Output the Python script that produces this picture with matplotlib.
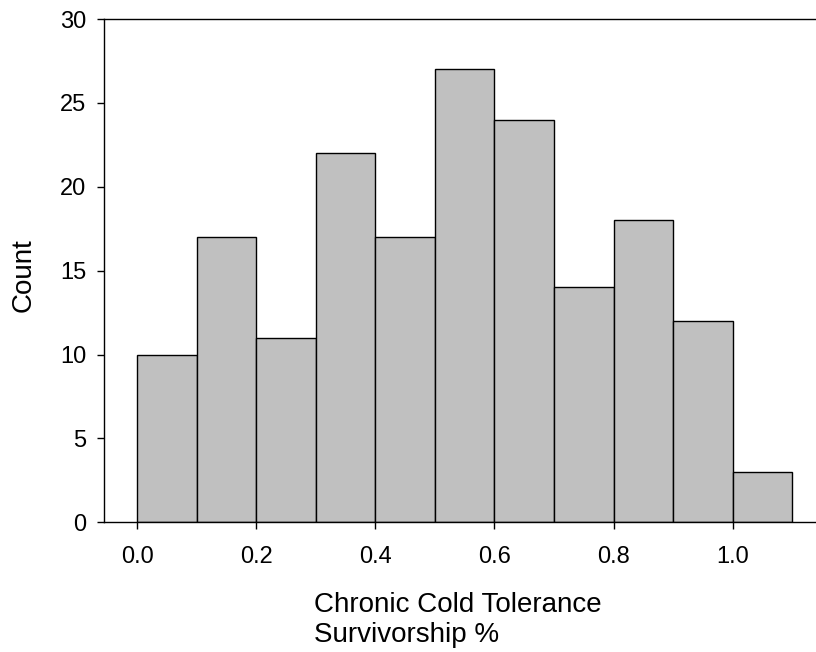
import matplotlib
matplotlib.use("Agg")
import matplotlib.pyplot as plt

plt.rcParams['font.family'] = ['Liberation Sans', 'DejaVu Sans']

bin_edges = [0.0, 0.1, 0.2, 0.3, 0.4, 0.5, 0.6, 0.7, 0.8, 0.9, 1.0, 1.1]
counts = [10, 17, 11, 22, 17, 27, 24, 14, 18, 12, 3]
xticks = [0.0, 0.2, 0.4, 0.6, 0.8, 1.0]
yticks = [0, 5, 10, 15, 20, 25, 30]
xlabel_lines = ['Chronic Cold Tolerance', 'Survivorship %']
ylabel = 'Count'

W, H = 816, 652
fig = plt.figure(figsize=(W / 100, H / 100), dpi=100)
left, right, bottom, top = 104.3, 816, 522.3, 19
ax = fig.add_axes([left / W, 1 - bottom / H, (right - left) / W, (bottom - top) / H])

lefts = bin_edges[:-1]
widths = [b - a for a, b in zip(bin_edges[:-1], bin_edges[1:])]
ax.bar(lefts, counts, width=widths, align='edge', color='#c0c0c0',
       edgecolor='black', linewidth=1.0)

ax.set_xlim(-0.055, 1.14)
ax.set_ylim(0, 30)
ax.set_xticks(xticks)
ax.set_xticklabels([f"{t:.1f}" for t in xticks])
ax.set_yticks(yticks)
ax.spines['right'].set_visible(False)
for s in ['left', 'bottom', 'top']:
    ax.spines[s].set_linewidth(1.0)
ax.tick_params(direction='out', length=5, width=1.0, labelsize=17, top=False, right=False)
ax.tick_params(axis='y', pad=8)
ax.tick_params(axis='x', pad=12)

fig.text(24 / W, 1 - 275 / H, ylabel, rotation=90, ha='center', va='center', fontsize=20)
fig.text(314 / W, 1 - 612 / H, xlabel_lines[0], ha='left', va='baseline', fontsize=20)
fig.text(314 / W, 1 - 642 / H, xlabel_lines[1], ha='left', va='baseline', fontsize=20)

fig.savefig('out.png', dpi=100)
